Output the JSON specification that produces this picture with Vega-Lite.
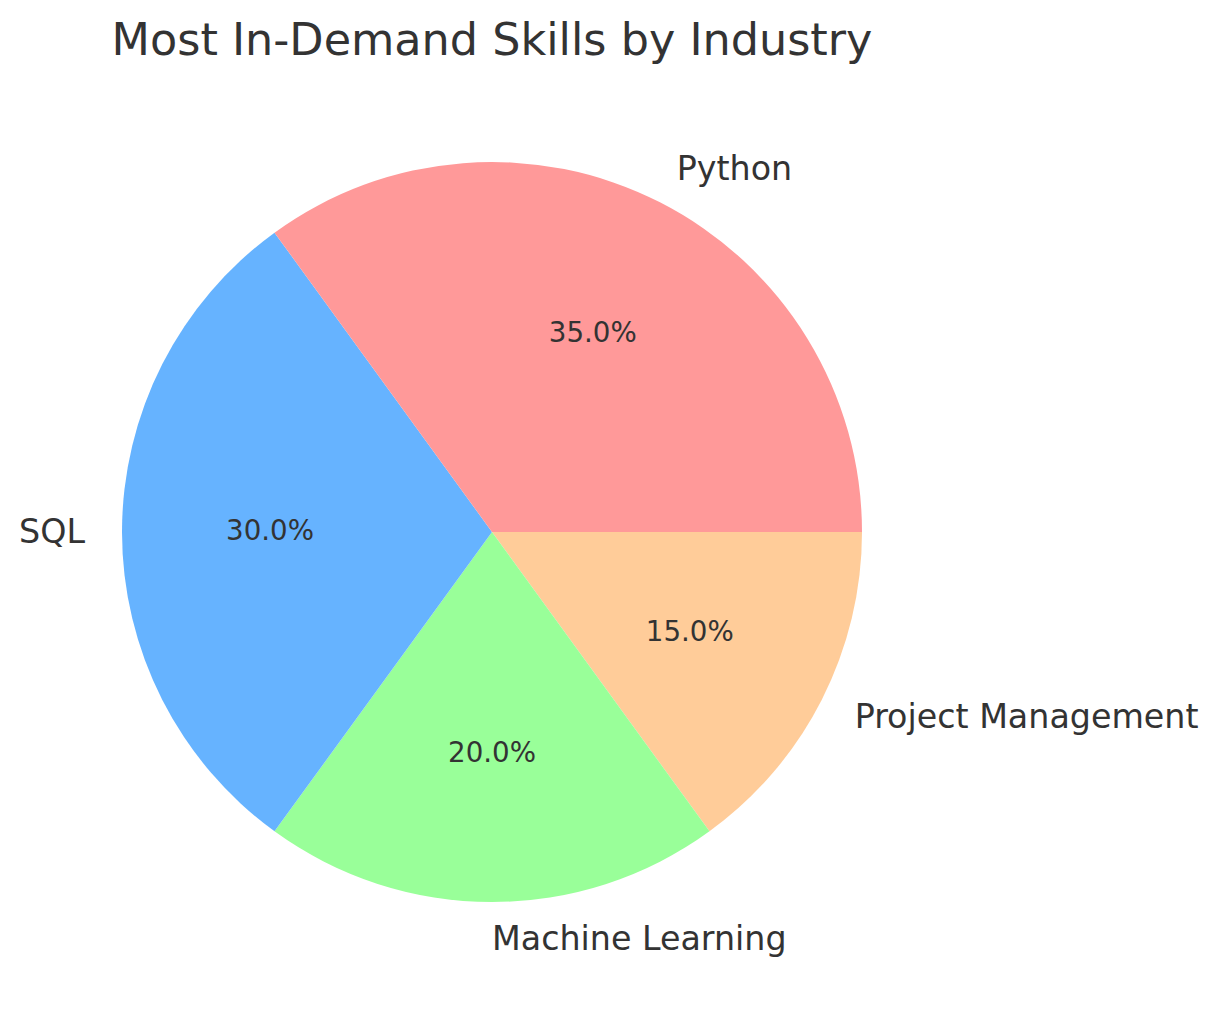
{
  "$schema": "https://vega.github.io/schema/vega-lite/v6.json",
  "autosize": "none",
  "width": 984,
  "height": 864,
  "padding": {"left": 0, "top": 100, "right": 235, "bottom": 50},
  "background": "white",
  "config": {"view": {"stroke": null}, "font": "DejaVu Sans"},
  "title": {
    "text": "Most In-Demand Skills by Industry",
    "fontSize": 44.5,
    "fontWeight": "normal",
    "color": "#333333",
    "anchor": "middle",
    "font": "DejaVu Sans",
    "offset": 36
  },
  "data": {
    "values": [
      {"skill": "Project Management", "value": 15, "order": 1, "pct": "15.0%"},
      {"skill": "Machine Learning", "value": 20, "order": 2, "pct": "20.0%"},
      {"skill": "SQL", "value": 30, "order": 3, "pct": "30.0%"},
      {"skill": "Python", "value": 35, "order": 4, "pct": "35.0%"}
    ]
  },
  "encoding": {
    "theta": {"field": "value", "type": "quantitative", "stack": true, "scale": {"range": [1.5707963, 7.8539816]}},
    "order": {"field": "order", "type": "quantitative"}
  },
  "layer": [
    {
      "mark": {"type": "arc", "outerRadius": 370},
      "encoding": {
        "color": {
          "field": "skill", "type": "nominal", "legend": null,
          "scale": {"domain": ["Python", "SQL", "Machine Learning", "Project Management"], "range": ["#ff9999", "#66b3ff", "#99ff99", "#ffcc99"]}
        }
      }
    },
    {
      "mark": {"type": "text", "radius": 222, "fontSize": 27.7, "color": "#333333", "font": "DejaVu Sans", "align": "center", "baseline": "middle"},
      "encoding": {"text": {"field": "pct"}}
    },
    {
      "mark": {"type": "text", "radius": 407, "fontSize": 33.3, "color": "#333333", "font": "DejaVu Sans", "baseline": "middle", "dy": 1,
        "align": {"expr": "datum.skill === 'SQL' ? 'right' : 'left'"}},
      "encoding": {"text": {"field": "skill"}}
    }
  ]
}
